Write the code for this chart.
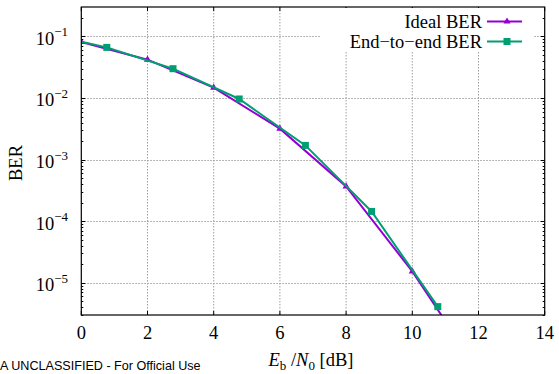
<!DOCTYPE html>
<html>
<head>
<meta charset="utf-8">
<script src="https://cdn.jsdelivr.net/npm/d3@7"></script>
<style>
	body { margin: 0; background: #fff; }
	svg { display: block; }
</style>
</head>
<body>
<svg id="chart"></svg>
<script>
// data
const idealX = [0, 2, 4, 6, 8, 10, 12];
const idealBER = [0.081, 0.0419, 0.0147, 0.00318, 3.67e-4, 1.53e-5, 3.7e-7];
const e2eX = [0, 0.77, 2.77, 4.77, 6.77, 8.77, 10.77];
const e2eBER = [0.082, 0.0663, 0.0299, 0.00964, 0.0017, 1.44e-4, 4.1e-6];
const xTicks = [0, 2, 4, 6, 8, 10, 12, 14];
const yExponents = [-1, -2, -3, -4, -5];
const seriesNames = ['Ideal BER', 'End\u2212to\u2212end BER'];

const width = 559;
const height = 374;
const marginLeft = 81.3;
const marginRight = 14.3;
const marginTop = 7;
const marginBottom = 59;
const purple = '#9400d3';
const green = '#009e73';
const serif = '"Liberation Serif", "Times New Roman", serif';
const fontSize = 18.5;

const svg = d3
	.select('#chart')
	.attr('width', width)
	.attr('height', height)
	.attr('viewBox', [0, 0, width, height]);

const x = d3
	.scaleLinear()
	.domain([0, 14])
	.range([marginLeft, width - marginRight]);

const y = d3
	.scaleLog()
	.domain([3e-6, 0.3])
	.range([height - marginBottom, marginTop]);

const yTicks = yExponents.map((e) => Math.pow(10, e));
const minorTicks = [];
for (let e = -6; e <= -1; e++) {
	for (let m = 2; m <= 9; m++) {
		const v = m * Math.pow(10, e);
		if (v >= 3e-6 && v <= 0.3) minorTicks.push(v);
	}
}

// grid
const grid = svg
	.append('g')
	.attr('stroke', '#a0a0a0')
	.attr('stroke-width', 1)
	.attr('stroke-dasharray', '1.5,1.5');
grid
	.selectAll('.gx')
	.data(xTicks.slice(1, -1))
	.join('line')
	.attr('x1', (d) => x(d))
	.attr('x2', (d) => x(d))
	.attr('y1', marginTop)
	.attr('y2', height - marginBottom);
grid
	.selectAll('.gy')
	.data(yTicks)
	.join('line')
	.attr('x1', marginLeft)
	.attr('x2', width - marginRight)
	.attr('y1', (d) => Math.round(y(d)) + 0.5)
	.attr('y2', (d) => Math.round(y(d)) + 0.5);

// ticks (inward, mirrored)
const ticks = svg.append('g').attr('stroke', '#000').attr('stroke-width', 1);
ticks
	.selectAll('.tb')
	.data(xTicks)
	.join('line')
	.attr('x1', (d) => x(d))
	.attr('x2', (d) => x(d))
	.attr('y1', height - marginBottom)
	.attr('y2', height - marginBottom - 4);
ticks
	.selectAll('.tt')
	.data(xTicks)
	.join('line')
	.attr('x1', (d) => x(d))
	.attr('x2', (d) => x(d))
	.attr('y1', marginTop)
	.attr('y2', marginTop + 4);
[
	[yTicks, 4],
	[minorTicks, 2],
].forEach(([vals, len]) => {
	ticks
		.append('g')
		.selectAll('line')
		.data(vals)
		.join('line')
		.attr('x1', marginLeft)
		.attr('x2', marginLeft + len)
		.attr('y1', (d) => Math.round(y(d)) + 0.5)
		.attr('y2', (d) => Math.round(y(d)) + 0.5);
	ticks
		.append('g')
		.selectAll('line')
		.data(vals)
		.join('line')
		.attr('x1', width - marginRight)
		.attr('x2', width - marginRight - len)
		.attr('y1', (d) => Math.round(y(d)) + 0.5)
		.attr('y2', (d) => Math.round(y(d)) + 0.5);
});

// legend box (opaque) drawn before the data so lines stay on top
svg
	.append('rect')
	.attr('x', 320)
	.attr('y', marginTop + 1)
	.attr('width', 213)
	.attr('height', 43)
	.attr('fill', '#fff');

// clip for lines
svg
	.append('clipPath')
	.attr('id', 'plot-clip')
	.append('rect')
	.attr('x', marginLeft)
	.attr('y', marginTop)
	.attr('width', width - marginLeft - marginRight)
	.attr('height', height - marginTop - marginBottom);

const line = d3
	.line()
	.x((d) => x(d[0]))
	.y((d) => y(d[1]));

const idealData = idealX.map((v, i) => [v, idealBER[i]]);
const e2eData = e2eX.map((v, i) => [v, e2eBER[i]]);

const plot = svg.append('g').attr('clip-path', 'url(#plot-clip)');

plot
	.append('path')
	.datum(idealData)
	.attr('fill', 'none')
	.attr('stroke', purple)
	.attr('stroke-width', 2)
	.attr('d', line);

const tri = d3.symbol().type(d3.symbolTriangle).size(22);
plot
	.append('g')
	.selectAll('path')
	.data(idealData)
	.join('path')
	.attr('d', tri)
	.attr('fill', purple)
	.attr('transform', (d) => `translate(${x(d[0])},${y(d[1])})`);

plot
	.append('path')
	.datum(e2eData)
	.attr('fill', 'none')
	.attr('stroke', green)
	.attr('stroke-width', 2)
	.attr('d', line);

// first green point has no marker in the reference
plot
	.append('g')
	.selectAll('rect')
	.data(e2eData.slice(1))
	.join('rect')
	.attr('x', (d) => x(d[0]) - 3.5)
	.attr('y', (d) => y(d[1]) - 3.5)
	.attr('width', 7)
	.attr('height', 7)
	.attr('fill', green);

// border
svg
	.append('rect')
	.attr('x', marginLeft)
	.attr('y', marginTop)
	.attr('width', width - marginLeft - marginRight)
	.attr('height', height - marginTop - marginBottom)
	.attr('fill', 'none')
	.attr('stroke', '#000')
	.attr('stroke-width', 1.2);

// x tick labels
svg
	.append('g')
	.attr('font-family', serif)
	.attr('font-size', fontSize)
	.attr('text-anchor', 'middle')
	.selectAll('text')
	.data(xTicks)
	.join('text')
	.attr('x', (d) => x(d))
	.attr('y', 339)
	.text((d) => d);

// y tick labels: 10^e
const yl = svg
	.append('g')
	.attr('font-family', serif)
	.attr('font-size', fontSize)
	.attr('text-anchor', 'end')
	.selectAll('text')
	.data(yExponents)
	.join('text')
	.attr('x', 68)
	.attr('y', (d) => y(Math.pow(10, d)) + 8.5);
yl.append('tspan').text('10');
yl
	.append('tspan')
	.attr('font-size', 13)
	.attr('dy', -8.5)
	.text((d) => '\u2212' + Math.abs(d));

// axis titles
svg
	.append('text')
	.attr('font-family', serif)
	.attr('font-size', fontSize)
	.attr('text-anchor', 'middle')
	.attr('transform', 'translate(22,163) rotate(-90)')
	.text('BER');

const xl = svg
	.append('text')
	.attr('font-family', serif)
	.attr('font-size', fontSize)
	.attr('text-anchor', 'middle')
	.attr('x', 311)
	.attr('y', 366);
xl.append('tspan').attr('font-style', 'italic').text('E');
xl.append('tspan').attr('font-size', 13).attr('dy', 4).text('b');
xl.append('tspan').attr('dy', -4).text(' /');
xl.append('tspan').attr('font-style', 'italic').text('N');
xl.append('tspan').attr('font-size', 13).attr('dy', 4).text('0');
xl.append('tspan').attr('dy', -4).text(' [dB]');

// legend
const legendColors = [purple, green];
const leg = svg
	.append('g')
	.selectAll('g')
	.data(seriesNames)
	.join('g')
	.attr('transform', (d, i) => `translate(0,${21.5 + i * 20})`);
leg
	.append('text')
	.attr('font-family', serif)
	.attr('font-size', fontSize)
	.attr('text-anchor', 'end')
	.attr('x', 482)
	.attr('y', 6)
	.text((d) => d);
leg
	.append('line')
	.attr('x1', 487)
	.attr('x2', 522)
	.attr('stroke', (d, i) => legendColors[i])
	.attr('stroke-width', 2);
leg
	.filter((d, i) => i === 0)
	.append('path')
	.attr('d', tri)
	.attr('fill', purple)
	.attr('transform', 'translate(507,0)');
leg
	.filter((d, i) => i === 1)
	.append('rect')
	.attr('x', 503.5)
	.attr('y', -3.5)
	.attr('width', 7)
	.attr('height', 7)
	.attr('fill', green);

// footer marking
svg
	.append('text')
	.attr('font-family', '"Liberation Sans", Arial, sans-serif')
	.attr('font-size', 12.6)
	.attr('x', 0)
	.attr('y', 369.5)
	.text('A UNCLASSIFIED - For Official Use');
</script>
</body>
</html>
